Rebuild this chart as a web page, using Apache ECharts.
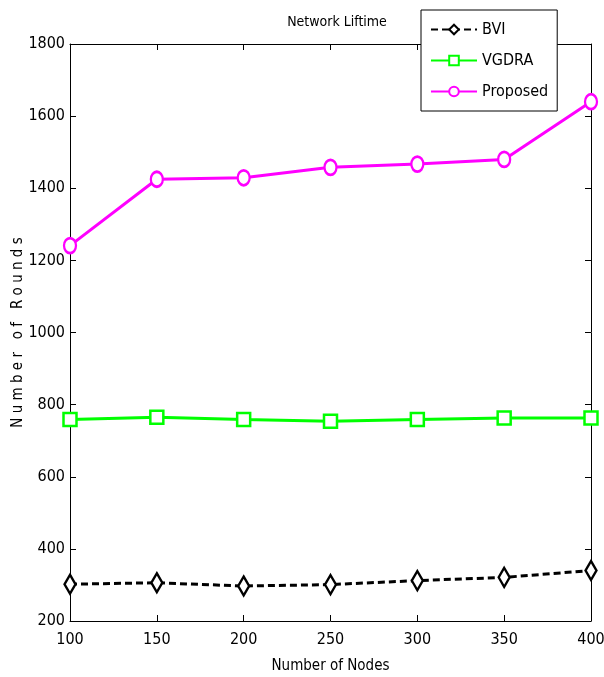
<!DOCTYPE html>
<html><head><meta charset="utf-8">
<script src="https://cdn.jsdelivr.net/npm/echarts@6/dist/echarts.min.js"></script>
<style>html,body{margin:0;padding:0;background:#fff}#c{width:604px;height:677px}</style>
</head><body><div id="c"></div>
<script>
const nodes = [100, 150, 200, 250, 300, 350, 400];
const bvi = [302, 306, 297, 301, 312, 321, 340];
const vgdra = [759, 765, 759, 754, 759, 763, 763];
const proposed = [1241, 1425, 1429, 1458, 1467, 1480, 1640];
const yTicks = [200, 400, 600, 800, 1000, 1200, 1400, 1600, 1800];

const FONT = '"Liberation Sans Narrow", "DejaVu Sans Condensed", "Liberation Sans", Arial, sans-serif';
const pair = arr => nodes.map((n, i) => [n, arr[i]]);
const chart = echarts.init(document.getElementById('c'));
const lab = {fontFamily: FONT, fontSize: 16, color: '#000', formatter: v => String(v)};
chart.setOption({
  animation: false,
  backgroundColor: '#fff',
  title: {text: 'Network Liftime', left: 332, top: 10, textAlign: 'center',
    textStyle: {fontFamily: FONT, fontSize: 14, fontWeight: 'normal', color: '#000'}},
  grid: {left: 70, right: 13, top: 44, bottom: 56, containLabel: false, outerBoundsMode: 'none'},
  legend: {
    orient: 'vertical', left: 421, top: 10,
    backgroundColor: '#fff', borderColor: '#000', borderWidth: 1,
    padding: [10, 9, 10, 9], itemGap: 12, itemWidth: 46, itemHeight: 12,
    textStyle: {fontFamily: FONT, fontSize: 16, color: '#000', lineHeight: 19},
    data: ['BVI', 'VGDRA', 'Proposed']
  },
  xAxis: [{
    type: 'value', min: 100, max: 400, interval: 50,
    name: 'Number of Nodes', nameLocation: 'middle', nameGap: 38,
    nameTextStyle: {fontFamily: FONT, fontSize: 15, color: '#000'},
    axisLine: {lineStyle: {color: '#000', width: 1}},
    axisTick: {inside: true, length: 6, lineStyle: {color: '#000'}},
    axisLabel: Object.assign({margin: 11}, lab),
    splitLine: {show: false}
  }, {
    type: 'value', min: 100, max: 400, interval: 50, position: 'top',
    axisLine: {show: true, lineStyle: {color: '#000'}},
    axisTick: {inside: true, length: 6, lineStyle: {color: '#000'}},
    axisLabel: {show: false}, splitLine: {show: false}
  }],
  yAxis: [{
    type: 'value', min: 200, max: 1800, interval: 200,
    name: 'N u m b e r   o f   R o u n d s', nameLocation: 'middle', nameGap: 44,
    nameMoveOverlap: false,
    nameTextStyle: {fontFamily: FONT, fontSize: 15, color: '#000'},
    axisLine: {show: true, lineStyle: {color: '#000'}},
    axisTick: {inside: true, length: 6, lineStyle: {color: '#000'}},
    axisLabel: Object.assign({margin: 5}, lab),
    splitLine: {show: false}
  }, {
    type: 'value', min: 200, max: 1800, interval: 200, position: 'right',
    axisLine: {show: true, lineStyle: {color: '#000'}},
    axisTick: {inside: true, length: 6, lineStyle: {color: '#000'}},
    axisLabel: {show: false}, splitLine: {show: false}
  }],
  series: [{
    name: 'BVI', type: 'line', data: pair(bvi),
    symbol: 'diamond', symbolSize: [11, 19],
    lineStyle: {color: '#000', width: 3, type: [7, 4]},
    itemStyle: {color: '#fff', borderColor: '#000', borderWidth: 2.5}
  }, {
    name: 'VGDRA', type: 'line', data: pair(vgdra),
    symbol: 'rect', symbolSize: 13,
    lineStyle: {color: '#00ff00', width: 3},
    itemStyle: {color: '#fff', borderColor: '#00ff00', borderWidth: 2.5}
  }, {
    name: 'Proposed', type: 'line', data: pair(proposed),
    symbol: 'circle', symbolSize: [12, 15],
    lineStyle: {color: '#ff00ff', width: 3},
    itemStyle: {color: '#fff', borderColor: '#ff00ff', borderWidth: 2.5}
  }]
});
</script></body></html>
